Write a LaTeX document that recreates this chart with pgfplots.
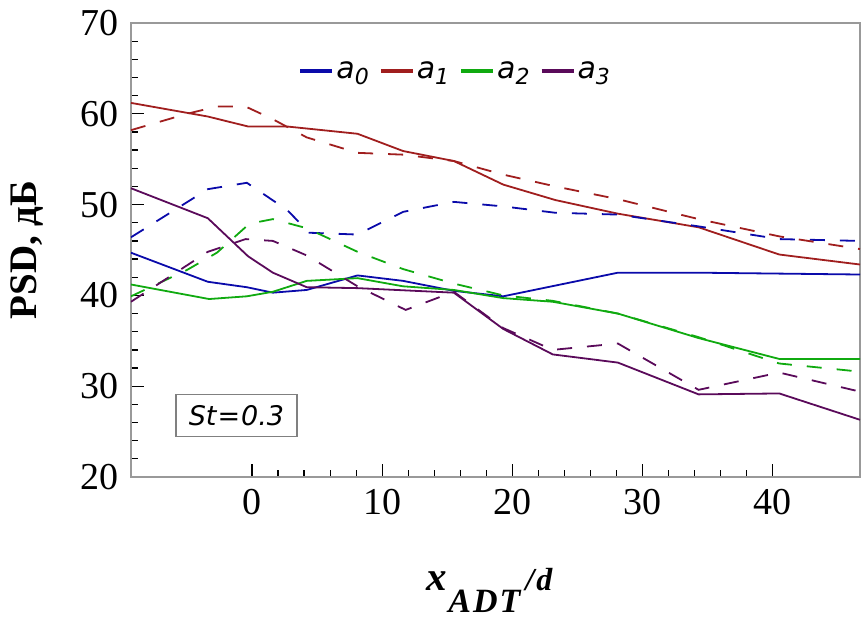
\documentclass[border=0pt]{standalone}
\usepackage{fontspec}
\setmainfont{Liberation Serif}
\newfontfamily\dejavu{DejaVu Sans}
\usepackage{pgfplots}
\pgfplotsset{compat=1.18}
\definecolor{cA}{HTML}{0A0AAA}
\definecolor{cB}{HTML}{A01E1E}
\definecolor{cC}{HTML}{10AA10}
\definecolor{cD}{HTML}{5A0A5A}
\newcommand\leg[1]{{\dejavu\fontsize{30}{30}\selectfont\itshape a\raisebox{-6pt}{\fontsize{22}{22}\selectfont #1}}}
\begin{document}
\begin{tikzpicture}
\begin{axis}[name=ax, scale only axis, width=729pt, height=454pt,
  xmin=-9.3, xmax=46.7, ymin=20, ymax=70,
  xtick={0,10,20,30,40}, ytick={20,30,40,50,60,70},
  minor x tick num=4, minor y tick num=4,
  xtick pos=lower, ytick pos=left, tick align=inside,
  major tick length=13pt, minor tick length=7pt,
  tick style={black, line width=1.3pt},
  axis line style={draw=gray!80, line width=1.5pt},
  /pgf/number format/assume math mode=true,
  tick label style={font=\fontsize{38}{40}\selectfont},
  xticklabel style={yshift=-9pt},
  yticklabel style={xshift=-9pt},
  xlabel={x\kern1pt\raisebox{-22pt}{\fontsize{34}{34}\selectfont A\kern2pt D\kern2pt T}\kern5pt{\fontsize{32}{32}\selectfont /\kern2pt d}},
  xlabel style={at={(axis description cs:0.492,-0.249)}, anchor=base, font=\bfseries\itshape\fontsize{41}{41}\selectfont},
  ylabel={PSD, дБ},
  ylabel style={at={(axis description cs:-0.129,0.5)}, anchor=base, font=\bfseries\fontsize{39}{40}\selectfont},
  legend columns=4,
  legend style={draw=none, fill=none, at={(axis cs:15.6,64.7)}, anchor=center, inner sep=0pt,
    nodes={inner sep=2pt}, /tikz/every even column/.append style={column sep=8pt}},
  legend image code/.code={\draw[#1, solid, line width=4pt] (0pt,0pt) -- (32pt,0pt);},
  every axis plot/.append style={line width=1.8pt},
]
\addplot[cA] coordinates {(-9.3,44.7) (-3.4,41.5) (-0.4,40.9) (1.6,40.3) (4.2,40.6) (8.1,42.2) (11.6,41.6) (15.5,40.5) (19.3,39.9) (28.1,42.5) (34.3,42.5) (40.5,42.4) (46.7,42.3)};
\addlegendentry{\leg{0}}
\addplot[cB] coordinates {(-9.3,61.2) (-3.4,59.7) (-0.3,58.6) (2.7,58.6) (8.1,57.8) (11.6,55.9) (15.5,54.8) (19.3,52.2) (23.3,50.5) (28.1,49.0) (34.3,47.5) (40.5,44.5) (46.7,43.4)};
\addlegendentry{\leg{1}}
\addplot[cC] coordinates {(-9.3,41.2) (-3.3,39.6) (-0.4,39.9) (1.6,40.4) (4.2,41.6) (8.1,41.9) (11.6,41.0) (15.5,40.6) (19.3,39.7) (23.1,39.3) (28.1,38.0) (34.3,35.3) (40.5,33.0) (46.7,33.0)};
\addlegendentry{\leg{2}}
\addplot[cD] coordinates {(-9.3,51.8) (-3.4,48.5) (-0.3,44.3) (1.6,42.5) (4.2,40.9) (8.1,40.8) (15.5,40.3) (19.3,36.3) (23.1,33.5) (28.1,32.6) (34.3,29.1) (40.5,29.2) (46.7,26.3)};
\addlegendentry{\leg{3}}
\addplot[cA, dash pattern=on 15pt off 15pt, forget plot] coordinates {(-9.3,46.4) (-3.4,51.7) (-0.4,52.4) (2.7,49.4) (4.4,46.9) (8.1,46.7) (11.6,49.2) (15.5,50.3) (19.3,49.8) (23.3,49.1) (28.1,48.9) (34.3,47.6) (40.5,46.2) (46.7,46.0)};
\addplot[cB, dash pattern=on 15pt off 15pt, forget plot] coordinates {(-9.3,58.2) (-5,60.0) (-2.7,60.8) (-0.5,60.8) (1.6,59.4) (4.2,57.4) (8.1,55.7) (11.6,55.5) (15.5,54.8) (19.3,53.3) (23.3,52.0) (28.1,50.6) (34.3,48.4) (40.5,46.5) (46.7,45.1)};
\addplot[cC, dash pattern=on 15pt off 15pt, forget plot] coordinates {(-9.3,39.9) (-5,42.8) (-2.7,44.7) (-0.2,47.9) (1.6,48.4) (4.2,47.4) (8.1,44.8) (11.6,42.9) (15.5,41.3) (19.3,40.0) (23.1,39.4) (28.1,38.0) (34.3,35.4) (40.5,32.5) (46.7,31.6)};
\addplot[cD, dash pattern=on 15pt off 15pt, forget plot] coordinates {(-9.3,39.3) (-3.4,44.8) (-0.5,46.2) (1.6,46.0) (4.2,44.4) (8.1,41.0) (11.8,38.4) (15.5,40.4) (19.3,36.4) (23.1,34.0) (28.1,34.7) (34.3,29.6) (40.5,31.5) (46.7,29.4)};
\node[draw=gray, line width=1.2pt, minimum width=121pt, minimum height=42pt, inner sep=0pt,
  font=\dejavu\fontsize{27}{27}\selectfont\itshape] at (axis cs:-1.2,26.8) {St\kern1pt=\kern1pt0.3};
\end{axis}
\pgfresetboundingbox
\useasboundingbox ([xshift=-131pt,yshift=-142pt]ax.south west) rectangle ([xshift=3pt,yshift=23pt]ax.north east);
\end{tikzpicture}
\end{document}
